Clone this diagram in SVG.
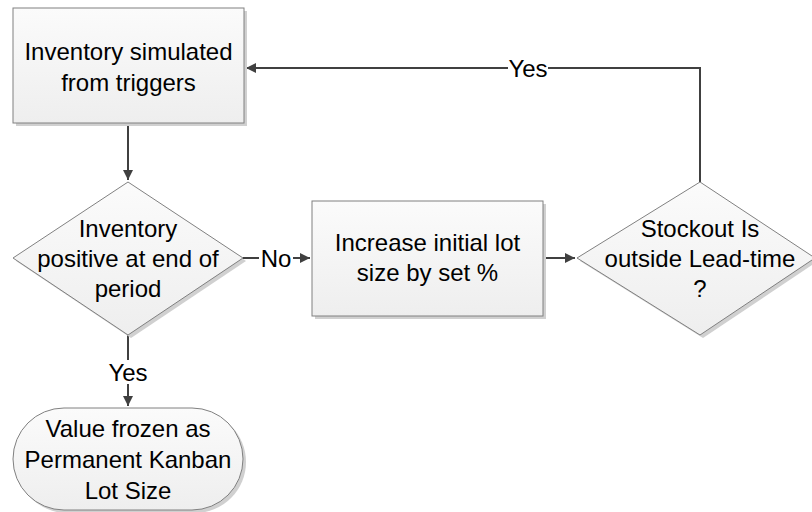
<svg xmlns="http://www.w3.org/2000/svg" width="812" height="512" viewBox="0 0 812 512">
<defs>
<linearGradient id="g" x1="0" y1="0" x2="0" y2="1">
<stop offset="0" stop-color="#fbfbfb"/>
<stop offset="1" stop-color="#eeeeee"/>
</linearGradient>
<marker id="ah" viewBox="0 0 10 10" refX="10" refY="5" markerWidth="10" markerHeight="10" markerUnits="userSpaceOnUse" orient="auto">
<path d="M0,0 L10,5 L0,10 z" fill="#404040"/>
</marker>
</defs>
<style>
.n{fill:url(#g);stroke:#808080;stroke-width:1}
.sh{fill:#d0d0d0}
.t{font-family:"Liberation Sans",Arial,sans-serif;font-size:24px;fill:#000;text-anchor:middle;dominant-baseline:central}
.c{fill:none;stroke:#404040;stroke-width:2}
.lb{fill:#fff}
</style>
<g id="connectors">
<path class="c" d="M128,123 V180" marker-end="url(#ah)"/>
<path class="c" d="M243,258 H310" marker-end="url(#ah)"/>
<path class="c" d="M543,258 H575" marker-end="url(#ah)"/>
<path class="c" d="M700,182 V68 H246" marker-end="url(#ah)"/>
<path class="c" d="M128,335 V406" marker-end="url(#ah)"/>
<rect class="lb" x="259" y="246" width="34" height="24"/>
<text class="t" x="276" y="258">No</text>
<rect class="lb" x="508" y="56" width="40" height="24"/>
<text class="t" x="528" y="68">Yes</text>
<rect class="lb" x="108" y="360" width="40" height="24"/>
<text class="t" x="128" y="372">Yes</text>
</g>
<g id="n1">
<rect class="sh" x="16" y="11" width="231" height="115"/>
<rect class="n" x="13" y="8" width="231" height="115"/>
<text class="t" x="128.500" y="51">Inventory simulated</text>
<text class="t" x="128.500" y="82">from triggers</text>
</g>
<g id="n2">
<polygon class="sh" points="131,185 246,261 131,338 16,261"/>
<polygon class="n" points="128,182 243,258 128,335 13,258"/>
<text class="t" x="128" y="228">Inventory</text>
<text class="t" x="128" y="258">positive at end of</text>
<text class="t" x="128" y="288">period</text>
</g>
<g id="n3">
<rect class="sh" x="315" y="204" width="231" height="115"/>
<rect class="n" x="312" y="201" width="231" height="115"/>
<text class="t" x="427.500" y="242">Increase initial lot</text>
<text class="t" x="427.500" y="272">size by set %</text>
</g>
<g id="n4">
<polygon class="sh" points="703,185 818,261 703,338 580,261"/>
<polygon class="n" points="700,182 815,258 700,335 577,258"/>
<text class="t" x="700" y="228">Stockout Is</text>
<text class="t" x="700" y="258">outside Lead-time</text>
<text class="t" x="700" y="288">?</text>
</g>
<g id="n5">
<rect class="sh" x="16" y="411" width="230" height="102" rx="51" ry="51"/>
<rect class="n" x="13" y="408" width="230" height="102" rx="51" ry="51"/>
<text class="t" x="128" y="428">Value frozen as</text>
<text class="t" x="128" y="459">Permanent Kanban</text>
<text class="t" x="128" y="490">Lot Size</text>
</g>
</svg>
